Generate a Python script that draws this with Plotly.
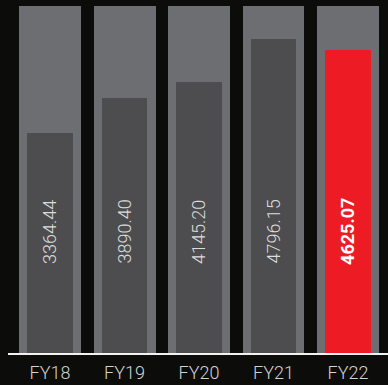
import plotly.graph_objects as go

categories = ["FY18", "FY19", "FY20", "FY21", "FY22"]
values = [3364.44, 3890.40, 4145.20, 4796.15, 4625.07]
value_labels = ["3364.44", "3890.40", "4145.20", "4796.15", "4625.07"]
track_values = [5300, 5300, 5300, 5300, 5300]
label_y = 1850
highlight = "FY22"

front_colors = ["#ed1c24" if c == highlight else "#4d4d4f" for c in categories]

fig = go.Figure()
fig.add_trace(go.Bar(
    x=categories, y=track_values, width=0.832,
    marker=dict(color="#6d6e71", line=dict(width=0)),
    hoverinfo="skip", showlegend=False,
))
fig.add_trace(go.Bar(
    x=categories, y=values, width=0.617,
    marker=dict(color=front_colors, line=dict(width=0)),
    showlegend=False,
))

for c, lab in zip(categories, value_labels):
    hi = c == highlight
    fig.add_annotation(
        x=c, y=label_y, xref="x", yref="y", text=("<b>%s</b>" % lab) if hi else lab,
        textangle=-90, showarrow=False,
        font=dict(family="Roboto", size=18, color="#ffffff" if hi else "#dcdcdc",
                  weight=700 if hi else 300),
    )

fig.update_layout(
    width=388, height=385,
    margin=dict(l=8, r=0, t=6, b=32),
    paper_bgcolor="#0c0c0a", plot_bgcolor="#0c0c0a",
    barmode="overlay", bargap=0,
    xaxis=dict(
        range=[-0.564, 4.537], showgrid=False, zeroline=False,
        showline=True, linecolor="#f2f2f2", linewidth=1.5,
        tickfont=dict(family="Roboto", size=18, color="#d2d2d2", weight=300),
        ticks="", ticklabelstandoff=3, fixedrange=True,
    ),
    yaxis=dict(range=[0, 5300], visible=False, fixedrange=True),
)

fig.write_html("out.html")
